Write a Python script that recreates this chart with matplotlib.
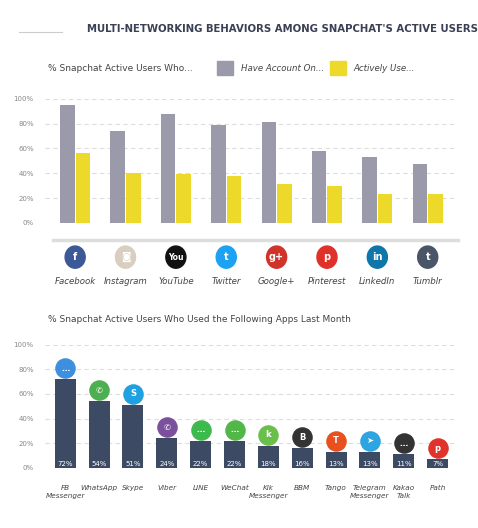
import matplotlib.pyplot as plt
import numpy as np

networks = ["Facebook", "Instagram", "YouTube", "Twitter", "Google+", "Pinterest", "LinkedIn", "Tumblr"]
have_account = [95, 74, 88, 79, 81, 58, 53, 47]
actively_use = [56, 40, 39, 38, 31, 30, 23, 23]
net_colors = ["#3b5998", "#d8cfc0", "#111111", "#1da1f2", "#d0332a", "#e0302a", "#0e76a8", "#4a5668"]
net_glyphs = ["f", "◙", "You", "t", "g+", "p", "in", "t"]

apps = ["FB\nMessenger", "WhatsApp", "Skype", "Viber", "LINE", "WeChat", "Kik\nMessenger", "BBM",
        "Tango", "Telegram\nMessenger", "Kakao\nTalk", "Path"]
app_usage = [72, 54, 51, 24, 22, 22, 18, 16, 13, 13, 11, 7]
app_colors = ["#3d8fe0", "#4caf50", "#1fa0e0", "#7b519d", "#3dba4e", "#51b848", "#6abf4b", "#333333",
              "#e8501e", "#2ca5e0", "#333333", "#e0332b"]
app_glyphs = ["…", "✆", "S", "✆", "…", "…", "k", "B", "T", "➤", "…", "p"]

gray = "#9a9aaa"
yellow = "#ecd92a"
navy = "#3d4a63"
txt = "#444444"

fig = plt.figure(figsize=(4.78, 5.28), dpi=100)
fig.patch.set_facecolor("white")

fig.text(0.59, 0.945, "MULTI-NETWORKING BEHAVIORS AMONG SNAPCHAT'S ACTIVE USERS",
         ha="center", va="center", fontsize=7.3, fontweight="bold", color="#3a4055")
fig.add_artist(plt.Line2D([0.04, 0.13], [0.94, 0.94], color="#cccccc", lw=0.8))

# legend row
fig.text(0.1, 0.87, "% Snapchat Active Users Who...", fontsize=6.5, color=txt, va="center")
fig.patches.append(plt.Rectangle((0.455, 0.858), 0.033, 0.026, color=gray, transform=fig.transFigure))
fig.text(0.505, 0.87, "Have Account On...", fontsize=6.2, style="italic", color=txt, va="center")
fig.patches.append(plt.Rectangle((0.69, 0.858), 0.033, 0.026, color=yellow, transform=fig.transFigure))
fig.text(0.74, 0.87, "Actively Use...", fontsize=6.2, style="italic", color=txt, va="center")


def style_axis(ax):
    ax.set_ylim(0, 100)
    ax.set_yticks(range(0, 101, 20))
    ax.set_yticklabels([f"{v}%" for v in range(0, 101, 20)], fontsize=5, color="#888888")
    ax.yaxis.grid(True, ls=(0, (4, 3)), color="#dddddd", lw=0.8)
    ax.set_axisbelow(True)
    for s in ax.spines.values():
        s.set_visible(False)
    ax.tick_params(length=0, pad=8)
    ax.set_xticks([])


ax1 = fig.add_axes([0.094, 0.578, 0.864, 0.235])
x = np.arange(len(networks))
w = 0.29
ax1.bar(x - w / 2 - 0.01, have_account, w, color=gray)
ax1.bar(x + w / 2 + 0.01, actively_use, w, color=yellow)
ax1.set_xlim(-0.6, len(networks) - 0.4)
style_axis(ax1)

fig.add_artist(plt.Line2D([0.11, 0.958], [0.545, 0.545], color="#dddddd", lw=2.5))
xf = ax1.transData.transform(np.column_stack([x, np.zeros_like(x)]))
xf = fig.transFigure.inverted().transform(xf)[:, 0]
for xi, name, c, g in zip(xf, networks, net_colors, net_glyphs):
    fig.add_artist(plt.Circle((xi, 0.513), 0.021, color=c, transform=fig.transFigure))
    fig.text(xi, 0.513, g, ha="center", va="center", color="white", fontsize=5.5 if len(g) > 2 else 7,
             fontweight="bold")
    fig.text(xi, 0.467, name, ha="center", va="center", fontsize=6.2, style="italic", color=txt)

fig.text(0.1, 0.395, "% Snapchat Active Users Who Used the Following Apps Last Month",
         fontsize=6.5, color=txt, va="center")

ax2 = fig.add_axes([0.094, 0.114, 0.864, 0.233])
x2 = np.arange(len(apps))
ax2.bar(x2, app_usage, 0.62, color=navy)
ax2.set_xlim(-0.6, len(apps) - 0.4)
style_axis(ax2)
for xi, v, c, g, name in zip(x2, app_usage, app_colors, app_glyphs, apps):
    ax2.text(xi, 3, f"{v}%", ha="center", va="center", color="white", fontsize=5)
    ax2.scatter([xi], [v + 9], s=190, color=c, clip_on=False, zorder=3)
    ax2.text(xi, v + 9, g, ha="center", va="center", color="white", fontsize=6, fontweight="bold",
             family=["DejaVu Sans"], zorder=4)
    ax2.text(xi, -14, name, ha="center", va="top", fontsize=5.2, style="italic", color=txt,
             linespacing=1.3)

fig.savefig("out.png", dpi=100)
